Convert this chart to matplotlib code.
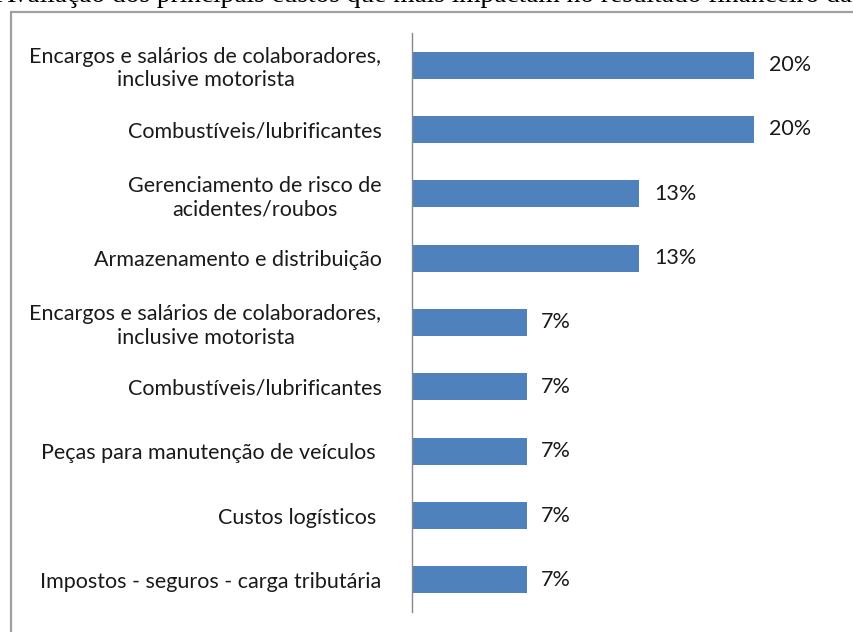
import matplotlib.pyplot as plt
from matplotlib.patches import Rectangle

# Dados (rótulos arredondados)
categorias = [
    'Encargos e salários de colaboradores,\ninclusive motorista',
    'Combustíveis/lubrificantes',
    'Gerenciamento de risco de\nacidentes/roubos',
    'Armazenamento e distribuição',
    'Encargos e salários de colaboradores,\ninclusive motorista',
    'Combustíveis/lubrificantes',
    'Peças para manutenção de veículos ',
    'Custos logísticos ',
    'Impostos - seguros - carga tributária',
]
percentuais = [20, 20, 13.3, 13.3, 6.7, 6.7, 6.7, 6.7, 6.7]
titulo = 'Avaliação dos principais custos que mais impactam no resultado financeiro da'

fig = plt.figure(figsize=(8.54, 6.32), dpi=100)

# Título cortado no topo (como na imagem original)
fig.text(-4/854, 1 - 1.5/632, titulo, fontfamily='Liberation Serif',
         fontsize=19.7, va='baseline', ha='left', color='black')

# Moldura do gráfico
borda = Rectangle((11/854, -0.05), 1.2, 1 - 12/632 + 0.05, transform=fig.transFigure,
                  fill=False, edgecolor='#a0a0a0', linewidth=1.6)
fig.patches.append(borda)

ax = fig.add_axes([412/854, 20/632, 1 - 412/854, 579/632])
y = list(range(len(categorias)))
barras = ax.barh(y, percentuais, height=0.42, color='#4f81bd')

for barra, v in zip(barras, percentuais):
    ax.text(barra.get_width() + 0.85, barra.get_y() + barra.get_height()/2,
            f'{v:.0f}%', va='center', ha='left', fontsize=15.5,
            fontfamily='Lato', color='#1a1a1a')

ax.set_xlim(0, 25.85)
ax.set_ylim(len(categorias) - 0.5, -0.5)
ax.set_yticks(y)
ax.set_yticklabels(categorias, fontsize=15.5, fontfamily='Lato', color='#1a1a1a')
for lbl in ax.get_yticklabels():
    lbl.set_multialignment('center')
ax.tick_params(axis='y', length=0, pad=22)
ax.set_xticks([])

for lado in ['top', 'right', 'bottom']:
    ax.spines[lado].set_visible(False)
ax.spines['left'].set_color('#888888')
ax.spines['left'].set_linewidth(1)

plt.savefig('out.png', dpi=100)
